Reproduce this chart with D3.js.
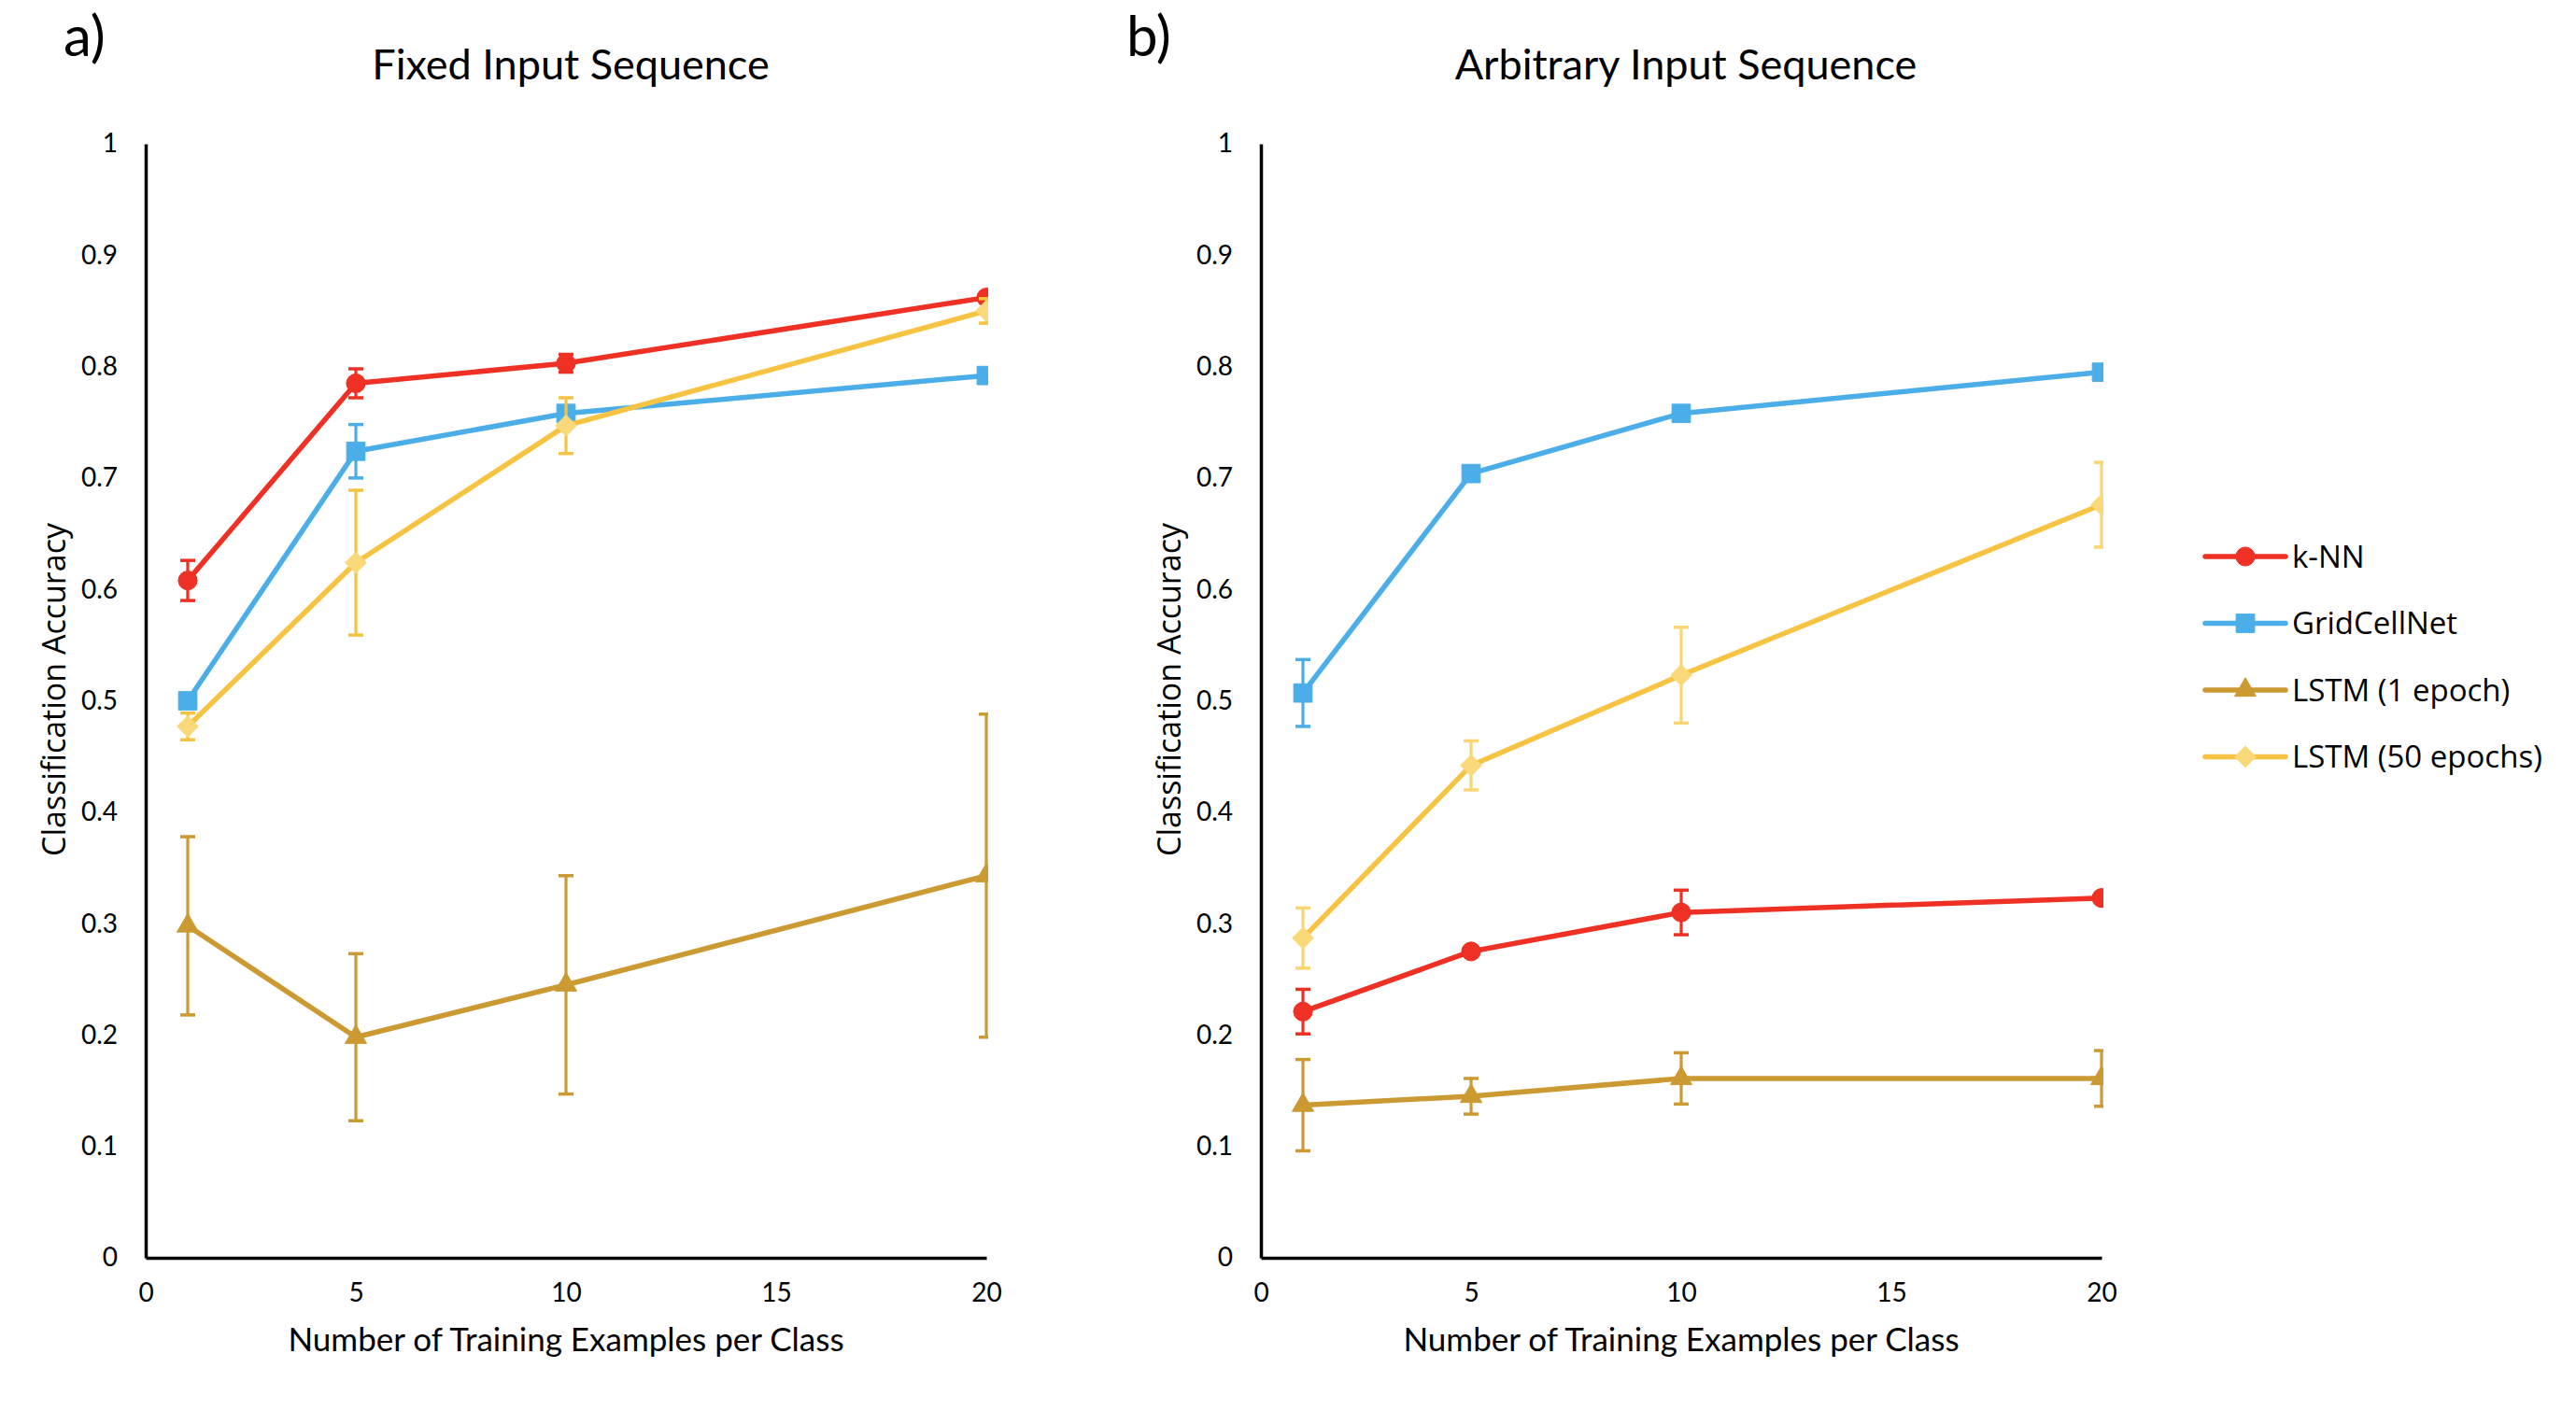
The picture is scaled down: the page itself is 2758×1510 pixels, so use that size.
<!DOCTYPE html>
<html>
<head>
<meta charset="utf-8">
<script src="https://cdn.jsdelivr.net/npm/d3@7"></script>
<style>
  body { margin: 0; background: #fff; }
</style>
</head>
<body>
<div id="chart"></div>
<script>
// ---------- data ----------
var xValues = [1, 5, 10, 20];
var xTicks = [0, 5, 10, 15, 20];
var yTicks = [0, 0.1, 0.2, 0.3, 0.4, 0.5, 0.6, 0.7, 0.8, 0.9, 1];
var seriesNames = ["k-NN", "GridCellNet", "LSTM (1 epoch)", "LSTM (50 epochs)"];

// a) fixed input sequence
var fixedKnn = [0.608, 0.785, 0.803, 0.862];
var fixedKnnErr = [0.018, 0.013, 0.008, 0.004];
var fixedGrid = [0.500, 0.724, 0.758, 0.792];
var fixedGridErr = [0.004, 0.024, 0.005, 0.004];
var fixedLstm1 = [0.298, 0.198, 0.245, 0.343];
var fixedLstm1Err = [0.080, 0.075, 0.098, 0.145];
var fixedLstm50 = [0.477, 0.624, 0.747, 0.850];
var fixedLstm50Err = [0.012, 0.065, 0.025, 0.011];

// b) arbitrary input sequence
var arbKnn = [0.221, 0.275, 0.310, 0.323];
var arbKnnErr = [0.020, 0.004, 0.020, 0.003];
var arbGrid = [0.507, 0.704, 0.758, 0.795];
var arbGridErr = [0.030, 0.004, 0.004, 0.005];
var arbLstm1 = [0.137, 0.145, 0.161, 0.161];
var arbLstm1Err = [0.041, 0.016, 0.023, 0.025];
var arbLstm50 = [0.287, 0.442, 0.523, 0.676];
var arbLstm50Err = [0.027, 0.022, 0.043, 0.038];

// ---------- styles ----------
var mainFont = "Lato, 'Open Sans', sans-serif";
var wideFont = "'Open Sans', 'Noto Sans', sans-serif";

var lineColors = ["#ee3124", "#4baee8", "#cc9a33", "#f6c343"];
var markerColors = ["#ee3124", "#4baee8", "#cc9a33", "#fad97a"];
var markerTypes = ["circle", "square", "triangle", "diamond"];

var svgWidth = 2758;
var svgHeight = 1510;

var svg = d3.select("#chart")
  .append("svg")
  .attr("width", svgWidth)
  .attr("height", svgHeight)
  .style("background", "#fff");

function markerPath(type) {
  if (type === "circle") return d3.symbol().type(d3.symbolCircle).size(320)();
  if (type === "square") return d3.symbol().type(d3.symbolSquare).size(390)();
  if (type === "triangle") return d3.symbol().type(d3.symbolTriangle).size(230)();
  return d3.symbol().type(d3.symbolSquare).size(250)();
}

function drawMarker(g, type, color, x, y) {
  var m = g.append("path")
    .attr("d", markerPath(type))
    .attr("fill", color)
    .attr("stroke", color)
    .attr("stroke-width", 1)
    .attr("stroke-linejoin", "round");
  if (type === "diamond") m.attr("transform", `translate(${x},${y}) rotate(45)`);
  else m.attr("transform", `translate(${x},${y})`);
}

// ---------- panel ----------
function drawPanel(opts) {
  var width = 900, height = 1193;
  var g = svg.append("g").attr("transform", `translate(${opts.left}, ${opts.top})`);

  var xScale = d3.scaleLinear().domain([0, 20]).range([0, width]);
  var yScale = d3.scaleLinear().domain([0, 1]).range([height, 0]);

  // clip so markers at x=20 get cut at the plot edge
  svg.append("clipPath").attr("id", opts.id)
    .append("rect")
    .attr("x", 0).attr("y", -40)
    .attr("width", width + 2).attr("height", height + 80);

  // axes
  var yAxis = d3.axisLeft(yScale).tickValues(yTicks).tickSize(0).tickPadding(30)
    .tickFormat(d => String(d));
  var xAxis = d3.axisBottom(xScale).tickValues(xTicks).tickSize(0).tickPadding(27)
    .tickFormat(d => String(d));

  var plot = g.append("g").attr("clip-path", `url(#${opts.id})`);

  opts.series.forEach((s, i) => {
    var pts = xValues.map((x, j) => ({ x: x, y: s.values[j], e: s.errors[j] }));

    var line = d3.line().x(d => xScale(d.x)).y(d => yScale(d.y));
    plot.append("path")
      .datum(pts)
      .attr("d", line)
      .attr("fill", "none")
      .attr("stroke", lineColors[i])
      .attr("stroke-width", 5.5)
      .attr("stroke-linejoin", "round");

    // error bars
    var errColor = opts.errColors[i];
    pts.forEach(d => {
      var cx = xScale(d.x);
      var y1 = yScale(d.y + d.e), y2 = yScale(d.y - d.e);
      plot.append("line").attr("x1", cx).attr("x2", cx).attr("y1", y1).attr("y2", y2)
        .attr("stroke", errColor).attr("stroke-width", 3.2);
      [y1, y2].forEach(yy => {
        plot.append("line").attr("x1", cx - 8).attr("x2", cx + 8).attr("y1", yy).attr("y2", yy)
          .attr("stroke", errColor).attr("stroke-width", 3.5);
      });
    });

    pts.forEach(d => drawMarker(plot, markerTypes[i], markerColors[i], xScale(d.x), yScale(d.y)));
  });

  var yG = g.append("g").call(yAxis);
  var xG = g.append("g").attr("transform", `translate(0, ${height})`).call(xAxis);
  [yG, xG].forEach(a => {
    a.select(".domain").attr("stroke", "#000").attr("stroke-width", 3.5);
    a.selectAll("text").attr("font-family", mainFont).attr("font-size", 28).attr("fill", "#000");
  });

  // titles
  g.append("text")
    .attr("x", width / 2 + 5)
    .attr("y", -69)
    .attr("text-anchor", "middle")
    .attr("font-family", mainFont)
    .attr("font-size", 45)
    .text(opts.title);

  g.append("text")
    .attr("x", opts.letterX - opts.left)
    .attr("y", -94)
    .attr("font-family", mainFont)
    .attr("font-size", 60)
    .text(opts.letter);

  g.append("text")
    .attr("x", width / 2)
    .attr("y", height + 100)
    .attr("text-anchor", "middle")
    .attr("font-family", mainFont)
    .attr("font-size", 35)
    .text("Number of Training Examples per Class");

  g.append("text")
    .attr("transform", `translate(-86, ${height / 2 - 12}) rotate(-90)`)
    .attr("text-anchor", "middle")
    .attr("font-family", wideFont)
    .attr("font-size", 34)
    .text("Classification Accuracy");
}

drawPanel({
  id: "clipA", left: 156, top: 154, letterX: 68, letter: "a)", title: "Fixed Input Sequence",
  errColors: lineColors,
  series: [
    { values: fixedKnn, errors: fixedKnnErr },
    { values: fixedGrid, errors: fixedGridErr },
    { values: fixedLstm1, errors: fixedLstm1Err },
    { values: fixedLstm50, errors: fixedLstm50Err }
  ]
});

drawPanel({
  id: "clipB", left: 1350, top: 154, letterX: 1206, letter: "b)", title: "Arbitrary Input Sequence",
  errColors: ["#ee3124", "#4baee8", "#cc9a33", "#f9d672"],
  series: [
    { values: arbKnn, errors: arbKnnErr },
    { values: arbGrid, errors: arbGridErr },
    { values: arbLstm1, errors: arbLstm1Err },
    { values: arbLstm50, errors: arbLstm50Err }
  ]
});

// ---------- legend ----------
var legend = svg.append("g").attr("transform", "translate(2361, 596)");
seriesNames.forEach((name, i) => {
  var row = legend.append("g").attr("transform", `translate(0, ${i * 71.5})`);
  row.append("line").attr("x1", 0).attr("x2", 86).attr("y1", 0).attr("y2", 0)
    .attr("stroke", lineColors[i]).attr("stroke-width", 5.5).attr("stroke-linecap", "round");
  drawMarker(row, markerTypes[i], markerColors[i], 43, 0);
  row.append("text")
    .attr("x", 93)
    .attr("y", 0)
    .attr("dy", "0.35em")
    .attr("font-family", wideFont)
    .attr("font-size", 33)
    .text(name);
});
</script>
</body>
</html>
